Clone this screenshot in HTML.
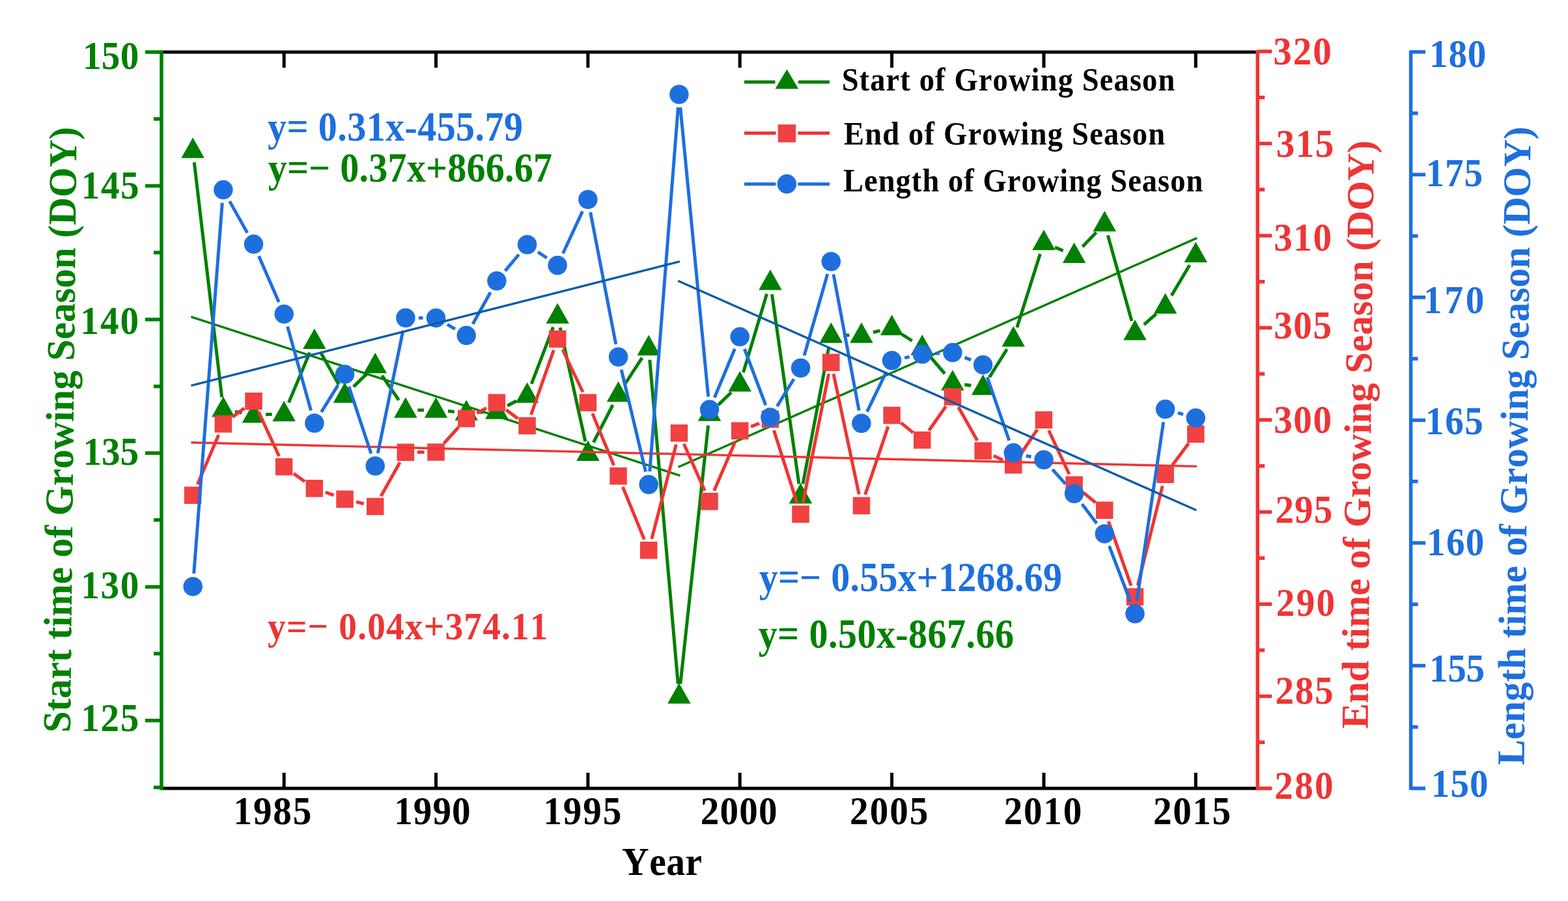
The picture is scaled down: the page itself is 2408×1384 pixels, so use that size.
<!DOCTYPE html>
<html><head><meta charset="utf-8"><title>Growing Season</title><style>html,body{margin:0;padding:0;background:#fff;}svg{display:block;}</style></head><body>
<svg width="2408" height="1384" viewBox="0 0 2408 1384" font-family="'Liberation Serif', 'Times New Roman', serif" font-weight="bold" style="font-kerning:none">
<rect width="2408" height="1384" fill="#fff"/>
<g>
<path d="M298.3 249.4L340.7 610.2M361.0 632.1L371.4 634.1M408.0 636.8L417.7 636.3M443.4 618.4L475.7 541.5M492.0 540.5L520.4 590.9M542.8 594.1L563.0 574.4M586.6 576.8L612.5 614.7M641.4 630.0L651.0 630.0M688.0 631.6L697.8 632.4M734.7 633.2L744.4 632.8M779.2 623.3L793.3 615.7M816.2 589.7L849.6 502.5M860.2 503.3L898.9 678.1M911.4 679.7L941.1 622.0M959.7 590.0L986.1 549.7M997.8 552.6L1041.3 1050.6M1044.9 1050.6L1087.6 653.4M1102.9 622.1L1123.0 602.7M1141.5 572.1L1177.6 451.4M1185.5 452.0L1227.0 743.3M1233.0 743.4L1272.8 533.2M1294.8 515.0L1304.4 515.0M1340.9 510.5L1351.6 507.9M1385.1 513.5L1400.7 523.5M1428.3 547.6L1450.9 574.0M1481.2 590.7L1491.3 592.3M1519.5 579.3L1546.4 536.4M1561.8 503.1L1597.4 390.1M1620.0 379.7L1632.6 385.1M1662.4 378.9L1683.5 357.0M1701.3 361.4L1738.0 493.1M1756.9 498.7L1775.7 482.2M1799.1 454.1L1826.9 407.2" stroke="#008000" stroke-width="5" fill="none" stroke-linecap="butt"/>
<path d="M296.2 211.2L313.9 242.8L278.4 242.8ZM342.9 608.9L360.6 640.4L325.1 640.4ZM389.5 617.9L407.3 649.4L371.8 649.4ZM436.2 615.8L453.9 647.2L418.4 647.2ZM482.9 504.6L500.6 536.1L465.1 536.1ZM529.5 587.2L547.3 618.8L511.8 618.8ZM576.2 541.8L594.0 573.2L558.5 573.2ZM622.9 610.2L640.6 641.8L605.1 641.8ZM669.5 610.2L687.3 641.8L651.8 641.8ZM716.2 614.2L734.0 645.8L698.5 645.8ZM762.9 612.2L780.6 643.8L745.1 643.8ZM809.6 587.2L827.3 618.8L791.8 618.8ZM856.2 465.4L874.0 496.9L838.5 496.9ZM902.9 676.5L920.7 708.0L885.2 708.0ZM949.6 585.8L967.3 617.2L931.8 617.2ZM996.2 514.5L1014.0 546.0L978.5 546.0ZM1042.9 1049.2L1060.7 1080.8L1025.2 1080.8ZM1089.6 615.2L1107.3 646.8L1071.8 646.8ZM1136.2 570.0L1154.0 601.5L1118.5 601.5ZM1182.9 413.9L1200.7 445.4L1165.2 445.4ZM1229.6 741.9L1247.3 773.4L1211.8 773.4ZM1276.3 495.2L1294.0 526.8L1258.5 526.8ZM1322.9 495.2L1340.7 526.8L1305.2 526.8ZM1369.6 483.6L1387.4 515.1L1351.9 515.1ZM1416.3 513.9L1434.0 545.4L1398.5 545.4ZM1462.9 568.2L1480.7 599.8L1445.2 599.8ZM1509.6 575.2L1527.4 606.8L1491.9 606.8ZM1556.3 501.0L1574.0 532.5L1538.5 532.5ZM1603.0 352.8L1620.7 384.2L1585.2 384.2ZM1649.6 372.6L1667.4 404.1L1631.9 404.1ZM1696.3 323.9L1714.0 355.4L1678.5 355.4ZM1743.0 491.1L1760.7 522.6L1725.2 522.6ZM1789.6 450.2L1807.4 481.8L1771.9 481.8ZM1836.3 371.6L1854.1 403.1L1818.6 403.1Z" fill="#008000"/>
<path d="M293.4 486.7L1044.5 730.6M1041.6 717.5L1838.2 365.6" stroke="#008000" stroke-width="3.4" fill="none"/>
<path d="M303.3 744.1L335.8 668.0M357.2 640.6L375.2 627.0M397.1 632.5L428.6 700.7M450.9 727.4L468.2 739.8M499.8 756.2L512.6 760.7M547.0 770.9L558.7 773.8M585.0 762.3L614.1 710.3M640.9 694.6L651.6 694.5M681.6 681.2L704.1 656.3M732.2 634.6L747.0 626.9M777.2 629.4L795.2 643.1M815.5 637.0L850.3 537.8M864.0 537.0L895.1 602.3M909.8 635.1L942.7 714.7M956.4 748.0L989.4 828.6M1000.8 827.9L1038.4 682.7M1050.2 681.7L1082.3 753.8M1096.7 753.7L1129.1 678.3M1153.1 655.4L1166.1 650.4M1188.4 661.1L1224.1 772.8M1233.1 772.2L1272.7 574.3M1280.0 574.2L1319.2 759.3M1328.7 759.8L1363.9 655.1M1383.6 649.4L1402.3 664.6M1426.6 661.3L1452.6 624.2M1471.8 625.2L1500.8 676.8M1525.9 700.1L1540.0 706.8M1566.3 699.5L1592.9 659.9M1610.6 661.3L1642.0 728.4M1663.4 756.3L1682.5 772.2M1702.3 800.8L1737.0 899.7M1747.3 899.2L1785.3 746.3M1800.4 714.4L1825.5 681.1" stroke="#EF3434" stroke-width="5" fill="none" stroke-linecap="butt"/>
<path d="M282.9 747.5h26.5v26.5h-26.5ZM329.6 638.1h26.5v26.5h-26.5ZM376.3 603.0h26.5v26.5h-26.5ZM422.9 703.8h26.5v26.5h-26.5ZM469.6 737.0h26.5v26.5h-26.5ZM516.3 753.5h26.5v26.5h-26.5ZM563.0 764.8h26.5v26.5h-26.5ZM609.6 681.4h26.5v26.5h-26.5ZM656.3 681.2h26.5v26.5h-26.5ZM703.0 629.8h26.5v26.5h-26.5ZM749.6 605.2h26.5v26.5h-26.5ZM796.3 640.8h26.5v26.5h-26.5ZM843.0 507.5h26.5v26.5h-26.5ZM889.7 605.2h26.5v26.5h-26.5ZM936.3 718.0h26.5v26.5h-26.5ZM983.0 832.0h26.5v26.5h-26.5ZM1029.7 652.0h26.5v26.5h-26.5ZM1076.3 757.0h26.5v26.5h-26.5ZM1123.0 648.5h26.5v26.5h-26.5ZM1169.7 630.8h26.5v26.5h-26.5ZM1216.3 776.6h26.5v26.5h-26.5ZM1263.0 543.4h26.5v26.5h-26.5ZM1309.7 763.6h26.5v26.5h-26.5ZM1356.4 624.8h26.5v26.5h-26.5ZM1403.0 662.8h26.5v26.5h-26.5ZM1449.7 596.2h26.5v26.5h-26.5ZM1496.4 679.2h26.5v26.5h-26.5ZM1543.0 701.1h26.5v26.5h-26.5ZM1589.7 631.8h26.5v26.5h-26.5ZM1636.4 731.5h26.5v26.5h-26.5ZM1683.0 770.5h26.5v26.5h-26.5ZM1729.7 903.5h26.5v26.5h-26.5ZM1776.4 715.5h26.5v26.5h-26.5ZM1823.1 653.5h26.5v26.5h-26.5Z" fill="#F14141"/>
<path d="M293.4 679.8L1838.2 716.4" stroke="#EF3434" stroke-width="3.4" fill="none"/>
<path d="M297.7 881.0L341.3 311.5M352.6 309.1L379.8 357.6M397.5 393.4L428.2 464.1M441.6 501.7L477.5 630.7M493.4 633.0L519.0 591.9M535.8 593.9L569.9 696.8M580.2 696.2L618.9 507.9M642.9 488.3L649.6 488.4M686.9 498.4L698.9 505.3M726.0 497.8L753.2 449.0M775.7 416.2L796.7 391.0M826.1 387.0L839.7 396.2M864.6 389.3L894.5 324.6M906.7 326.0L945.8 528.7M954.2 567.8L991.6 724.7M997.8 724.3L1041.4 164.9M1044.8 164.9L1087.7 609.2M1097.3 610.6L1128.5 535.8M1143.3 536.0L1175.9 622.3M1193.4 624.0L1219.1 582.3M1235.1 546.1L1270.8 420.9M1280.0 421.4L1319.2 630.6M1331.6 632.3L1360.9 571.7M1389.2 549.6L1396.7 548.1M1436.2 543.0L1443.0 542.6M1481.5 549.1L1491.1 552.9M1516.1 579.3L1549.8 676.7M1575.8 700.1L1583.5 701.8M1616.3 721.2L1636.3 743.4M1661.7 774.2L1684.2 804.0M1703.4 838.6L1735.9 924.0M1745.9 922.9L1786.7 648.4M1808.8 634.2L1817.1 636.5" stroke="#1E6FDE" stroke-width="5" fill="none" stroke-linecap="butt"/>
<circle cx="296.2" cy="900.9" r="14.75" fill="#1E6FDE"/>
<circle cx="342.9" cy="291.6" r="14.75" fill="#1E6FDE"/>
<circle cx="389.5" cy="375.1" r="14.75" fill="#1E6FDE"/>
<circle cx="436.2" cy="482.4" r="14.75" fill="#1E6FDE"/>
<circle cx="482.9" cy="650.0" r="14.75" fill="#1E6FDE"/>
<circle cx="529.5" cy="574.9" r="14.75" fill="#1E6FDE"/>
<circle cx="576.2" cy="715.8" r="14.75" fill="#1E6FDE"/>
<circle cx="622.9" cy="488.3" r="14.75" fill="#1E6FDE"/>
<circle cx="669.5" cy="488.4" r="14.75" fill="#1E6FDE"/>
<circle cx="716.2" cy="515.3" r="14.75" fill="#1E6FDE"/>
<circle cx="762.9" cy="431.5" r="14.75" fill="#1E6FDE"/>
<circle cx="809.6" cy="375.7" r="14.75" fill="#1E6FDE"/>
<circle cx="856.2" cy="407.5" r="14.75" fill="#1E6FDE"/>
<circle cx="902.9" cy="306.4" r="14.75" fill="#1E6FDE"/>
<circle cx="949.6" cy="548.3" r="14.75" fill="#1E6FDE"/>
<circle cx="996.2" cy="744.2" r="14.75" fill="#1E6FDE"/>
<circle cx="1042.9" cy="145.0" r="14.75" fill="#1E6FDE"/>
<circle cx="1089.6" cy="629.1" r="14.75" fill="#1E6FDE"/>
<circle cx="1136.2" cy="517.3" r="14.75" fill="#1E6FDE"/>
<circle cx="1182.9" cy="641.0" r="14.75" fill="#1E6FDE"/>
<circle cx="1229.6" cy="565.3" r="14.75" fill="#1E6FDE"/>
<circle cx="1276.3" cy="401.7" r="14.75" fill="#1E6FDE"/>
<circle cx="1322.9" cy="650.3" r="14.75" fill="#1E6FDE"/>
<circle cx="1369.6" cy="553.7" r="14.75" fill="#1E6FDE"/>
<circle cx="1416.3" cy="544.0" r="14.75" fill="#1E6FDE"/>
<circle cx="1462.9" cy="541.6" r="14.75" fill="#1E6FDE"/>
<circle cx="1509.6" cy="560.4" r="14.75" fill="#1E6FDE"/>
<circle cx="1556.3" cy="695.6" r="14.75" fill="#1E6FDE"/>
<circle cx="1603.0" cy="706.3" r="14.75" fill="#1E6FDE"/>
<circle cx="1649.6" cy="758.3" r="14.75" fill="#1E6FDE"/>
<circle cx="1696.3" cy="819.9" r="14.75" fill="#1E6FDE"/>
<circle cx="1743.0" cy="942.7" r="14.75" fill="#1E6FDE"/>
<circle cx="1789.6" cy="628.6" r="14.75" fill="#1E6FDE"/>
<circle cx="1836.3" cy="642.1" r="14.75" fill="#1E6FDE"/>
<path d="M293.4 592.3L1043.9 401.7M1041 431.2L1837.3 783.8" stroke="#0E5CA8" stroke-width="3.4" fill="none"/>
<path d="M248 80H1931.3M248 1211H1931.3" stroke="#000" stroke-width="5" fill="none"/>
<path d="M436.2 80V104M436.2 1211V1187M669.5 80V104M669.5 1211V1187M902.9 80V104M902.9 1211V1187M1136.2 80V104M1136.2 1211V1187M1369.6 80V104M1369.6 1211V1187M1603.0 80V104M1603.0 1211V1187M1836.3 80V104M1836.3 1211V1187" stroke="#000" stroke-width="5" fill="none"/>
<path d="M248 77.5V1213.5M248 80.0H223M248 182.7H236M248 285.4H223M248 388.0H236M248 490.7H223M248 593.4H236M248 696.0H223M248 798.7H236M248 901.4H223M248 1004.1H236M248 1106.8H223M248 1209.4H236" stroke="#008000" stroke-width="5.5" fill="none"/>
<path d="M1931.3 77.5V1213.5M1931.3 79.0H1953.3M1931.3 149.8H1942.3M1931.3 220.5H1953.3M1931.3 291.2H1942.3M1931.3 362.0H1953.3M1931.3 432.8H1942.3M1931.3 503.5H1953.3M1931.3 574.2H1942.3M1931.3 645.0H1953.3M1931.3 715.8H1942.3M1931.3 786.5H1953.3M1931.3 857.2H1942.3M1931.3 928.0H1953.3M1931.3 998.8H1942.3M1931.3 1069.5H1953.3M1931.3 1140.2H1942.3M1931.3 1211.0H1953.3" stroke="#EF3434" stroke-width="5.5" fill="none"/>
<path d="M2166.6 77.5V1213.5M2166.6 79.7H2189.1M2166.6 174.0H2177.6M2166.6 268.2H2189.1M2166.6 362.5H2177.6M2166.6 456.8H2189.1M2166.6 551.1H2177.6M2166.6 645.4H2189.1M2166.6 739.6H2177.6M2166.6 833.9H2189.1M2166.6 928.2H2177.6M2166.6 1022.5H2189.1M2166.6 1116.7H2177.6M2166.6 1211.0H2189.1" stroke="#1E6FDE" stroke-width="5.5" fill="none"/>
<text transform="translate(126.92 106.30) scale(0.93 1)" font-size="61.5" fill="#008000" letter-spacing="0.358">150</text>
<text transform="translate(124.82 304.80) scale(0.93 1)" font-size="61.5" fill="#008000" letter-spacing="1.603">145</text>
<text transform="translate(123.22 512.70) scale(0.93 1)" font-size="61.5" fill="#008000" letter-spacing="2.240">140</text>
<text transform="translate(127.52 714.30) scale(0.93 1)" font-size="61.5" fill="#008000" letter-spacing="-0.117">135</text>
<text transform="translate(124.22 919.30) scale(0.93 1)" font-size="61.5" fill="#008000" letter-spacing="1.863">130</text>
<text transform="translate(124.22 1123.00) scale(0.93 1)" font-size="61.5" fill="#008000" letter-spacing="1.818">125</text>
<text transform="translate(1955.15 98.80) scale(0.93 1)" font-size="61.5" fill="#EF3434" letter-spacing="2.170">320</text>
<text transform="translate(1959.75 241.30) scale(0.93 1)" font-size="61.5" fill="#EF3434" letter-spacing="1.534">315</text>
<text transform="translate(1956.25 384.60) scale(0.93 1)" font-size="61.5" fill="#EF3434" letter-spacing="1.632">310</text>
<text transform="translate(1956.25 519.80) scale(0.93 1)" font-size="61.5" fill="#EF3434" letter-spacing="1.587">305</text>
<text transform="translate(1956.25 665.00) scale(0.93 1)" font-size="61.5" fill="#EF3434" letter-spacing="1.632">300</text>
<text transform="translate(1958.50 803.30) scale(0.93 1)" font-size="61.5" fill="#EF3434" letter-spacing="1.077">295</text>
<text transform="translate(1959.80 946.10) scale(0.93 1)" font-size="61.5" fill="#EF3434" letter-spacing="2.413">290</text>
<text transform="translate(1958.50 1081.20) scale(0.93 1)" font-size="61.5" fill="#EF3434" letter-spacing="1.722">285</text>
<text transform="translate(1957.30 1226.90) scale(0.93 1)" font-size="61.5" fill="#EF3434" letter-spacing="2.466">280</text>
<text transform="translate(2194.92 103.20) scale(0.93 1)" font-size="61.5" fill="#1E6FDE" letter-spacing="0.949">180</text>
<text transform="translate(2189.52 285.60) scale(0.93 1)" font-size="61.5" fill="#1E6FDE" letter-spacing="0.904">175</text>
<text transform="translate(2186.12 480.50) scale(0.93 1)" font-size="61.5" fill="#1E6FDE" letter-spacing="4.068">170</text>
<text transform="translate(2189.12 666.70) scale(0.93 1)" font-size="61.5" fill="#1E6FDE" letter-spacing="1.550">165</text>
<text transform="translate(2191.12 852.80) scale(0.93 1)" font-size="61.5" fill="#1E6FDE" letter-spacing="1.380">160</text>
<text transform="translate(2194.92 1047.00) scale(0.93 1)" font-size="61.5" fill="#1E6FDE" letter-spacing="-0.386">155</text>
<text transform="translate(2197.72 1224.10) scale(0.93 1)" font-size="61.5" fill="#1E6FDE" letter-spacing="1.164">150</text>
<text transform="translate(358.52 1265.50) scale(0.93 1)" font-size="61.5" fill="#000" letter-spacing="1.966">1985</text>
<text transform="translate(605.22 1265.50) scale(0.93 1)" font-size="61.5" fill="#000" letter-spacing="1.100">1990</text>
<text transform="translate(834.42 1265.50) scale(0.93 1)" font-size="61.5" fill="#000" letter-spacing="2.002">1995</text>
<text transform="translate(1075.80 1265.50) scale(0.93 1)" font-size="61.5" fill="#000" letter-spacing="1.251">2000</text>
<text transform="translate(1305.10 1265.50) scale(0.93 1)" font-size="61.5" fill="#000" letter-spacing="2.081">2005</text>
<text transform="translate(1541.70 1265.50) scale(0.93 1)" font-size="61.5" fill="#000" letter-spacing="1.860">2010</text>
<text transform="translate(1771.10 1265.50) scale(0.93 1)" font-size="61.5" fill="#000" letter-spacing="1.651">2015</text>
<text transform="translate(955.09 1343.60) scale(0.93 1)" font-size="62" fill="#000" letter-spacing="0.465">Year</text>
<text transform="translate(107.8 1125.6) rotate(-89.4)" font-size="61" fill="#008000" textLength="930.7" lengthAdjust="spacingAndGlyphs">Start time of Growing Season (DOY)</text>
<text transform="translate(2100.4 1119.4) rotate(-89.4)" font-size="59" fill="#EF3434" textLength="903.6" lengthAdjust="spacingAndGlyphs">End time of Growing Season (DOY)</text>
<text transform="translate(2340.4 1175.6) rotate(-89.4)" font-size="60" fill="#1E6FDE" textLength="981.1" lengthAdjust="spacingAndGlyphs">Length time of Growing Season (DOY)</text>
<text transform="translate(411.03 215.80) scale(0.93 1)" font-size="62.5" fill="#1E6FDE" letter-spacing="0.405">y= 0.31x-455.79</text>
<text transform="translate(411.63 278.60) scale(0.93 1)" font-size="62.5" fill="#008000" letter-spacing="0.215">y=− 0.37x+866.67</text>
<text transform="translate(411.06 982.20) scale(0.93 1)" font-size="59.5" fill="#EF3434" letter-spacing="1.278">y=− 0.04x+374.11</text>
<text transform="translate(1165.73 907.50) scale(0.93 1)" font-size="62.5" fill="#1E6FDE" letter-spacing="0.183">y=− 0.55x+1268.69</text>
<text transform="translate(1164.63 995.10) scale(0.93 1)" font-size="62.5" fill="#008000" letter-spacing="0.436">y= 0.50x-867.66</text>
<path d="M1143 126H1190.5M1226 126H1274" stroke="#008000" stroke-width="5" fill="none"/>
<path d="M1208.4 106.6L1226.3 136.4L1190.5 136.4Z" fill="#008000"/>
<path d="M1143 204.6H1191.5M1225.3 204.6H1274" stroke="#EF3434" stroke-width="5" fill="none"/>
<rect x="1194.7" y="191.2" width="27.4" height="27.4" fill="#F14141"/>
<path d="M1143 282.7H1191.5M1225.3 282.7H1274" stroke="#1E6FDE" stroke-width="5" fill="none"/>
<circle cx="1208.4" cy="282.6" r="14.8" fill="#1E6FDE"/>
<text transform="translate(1292.63 139.20) scale(0.93 1)" font-size="50" fill="#000" letter-spacing="1.218">Start of Growing Season</text>
<text transform="translate(1295.91 221.50) scale(0.93 1)" font-size="50" fill="#000" letter-spacing="1.308">End of Growing Season</text>
<text transform="translate(1294.91 294.40) scale(0.93 1)" font-size="50" fill="#000" letter-spacing="1.138">Length of Growing Season</text>
</g>
</svg>
</body></html>
